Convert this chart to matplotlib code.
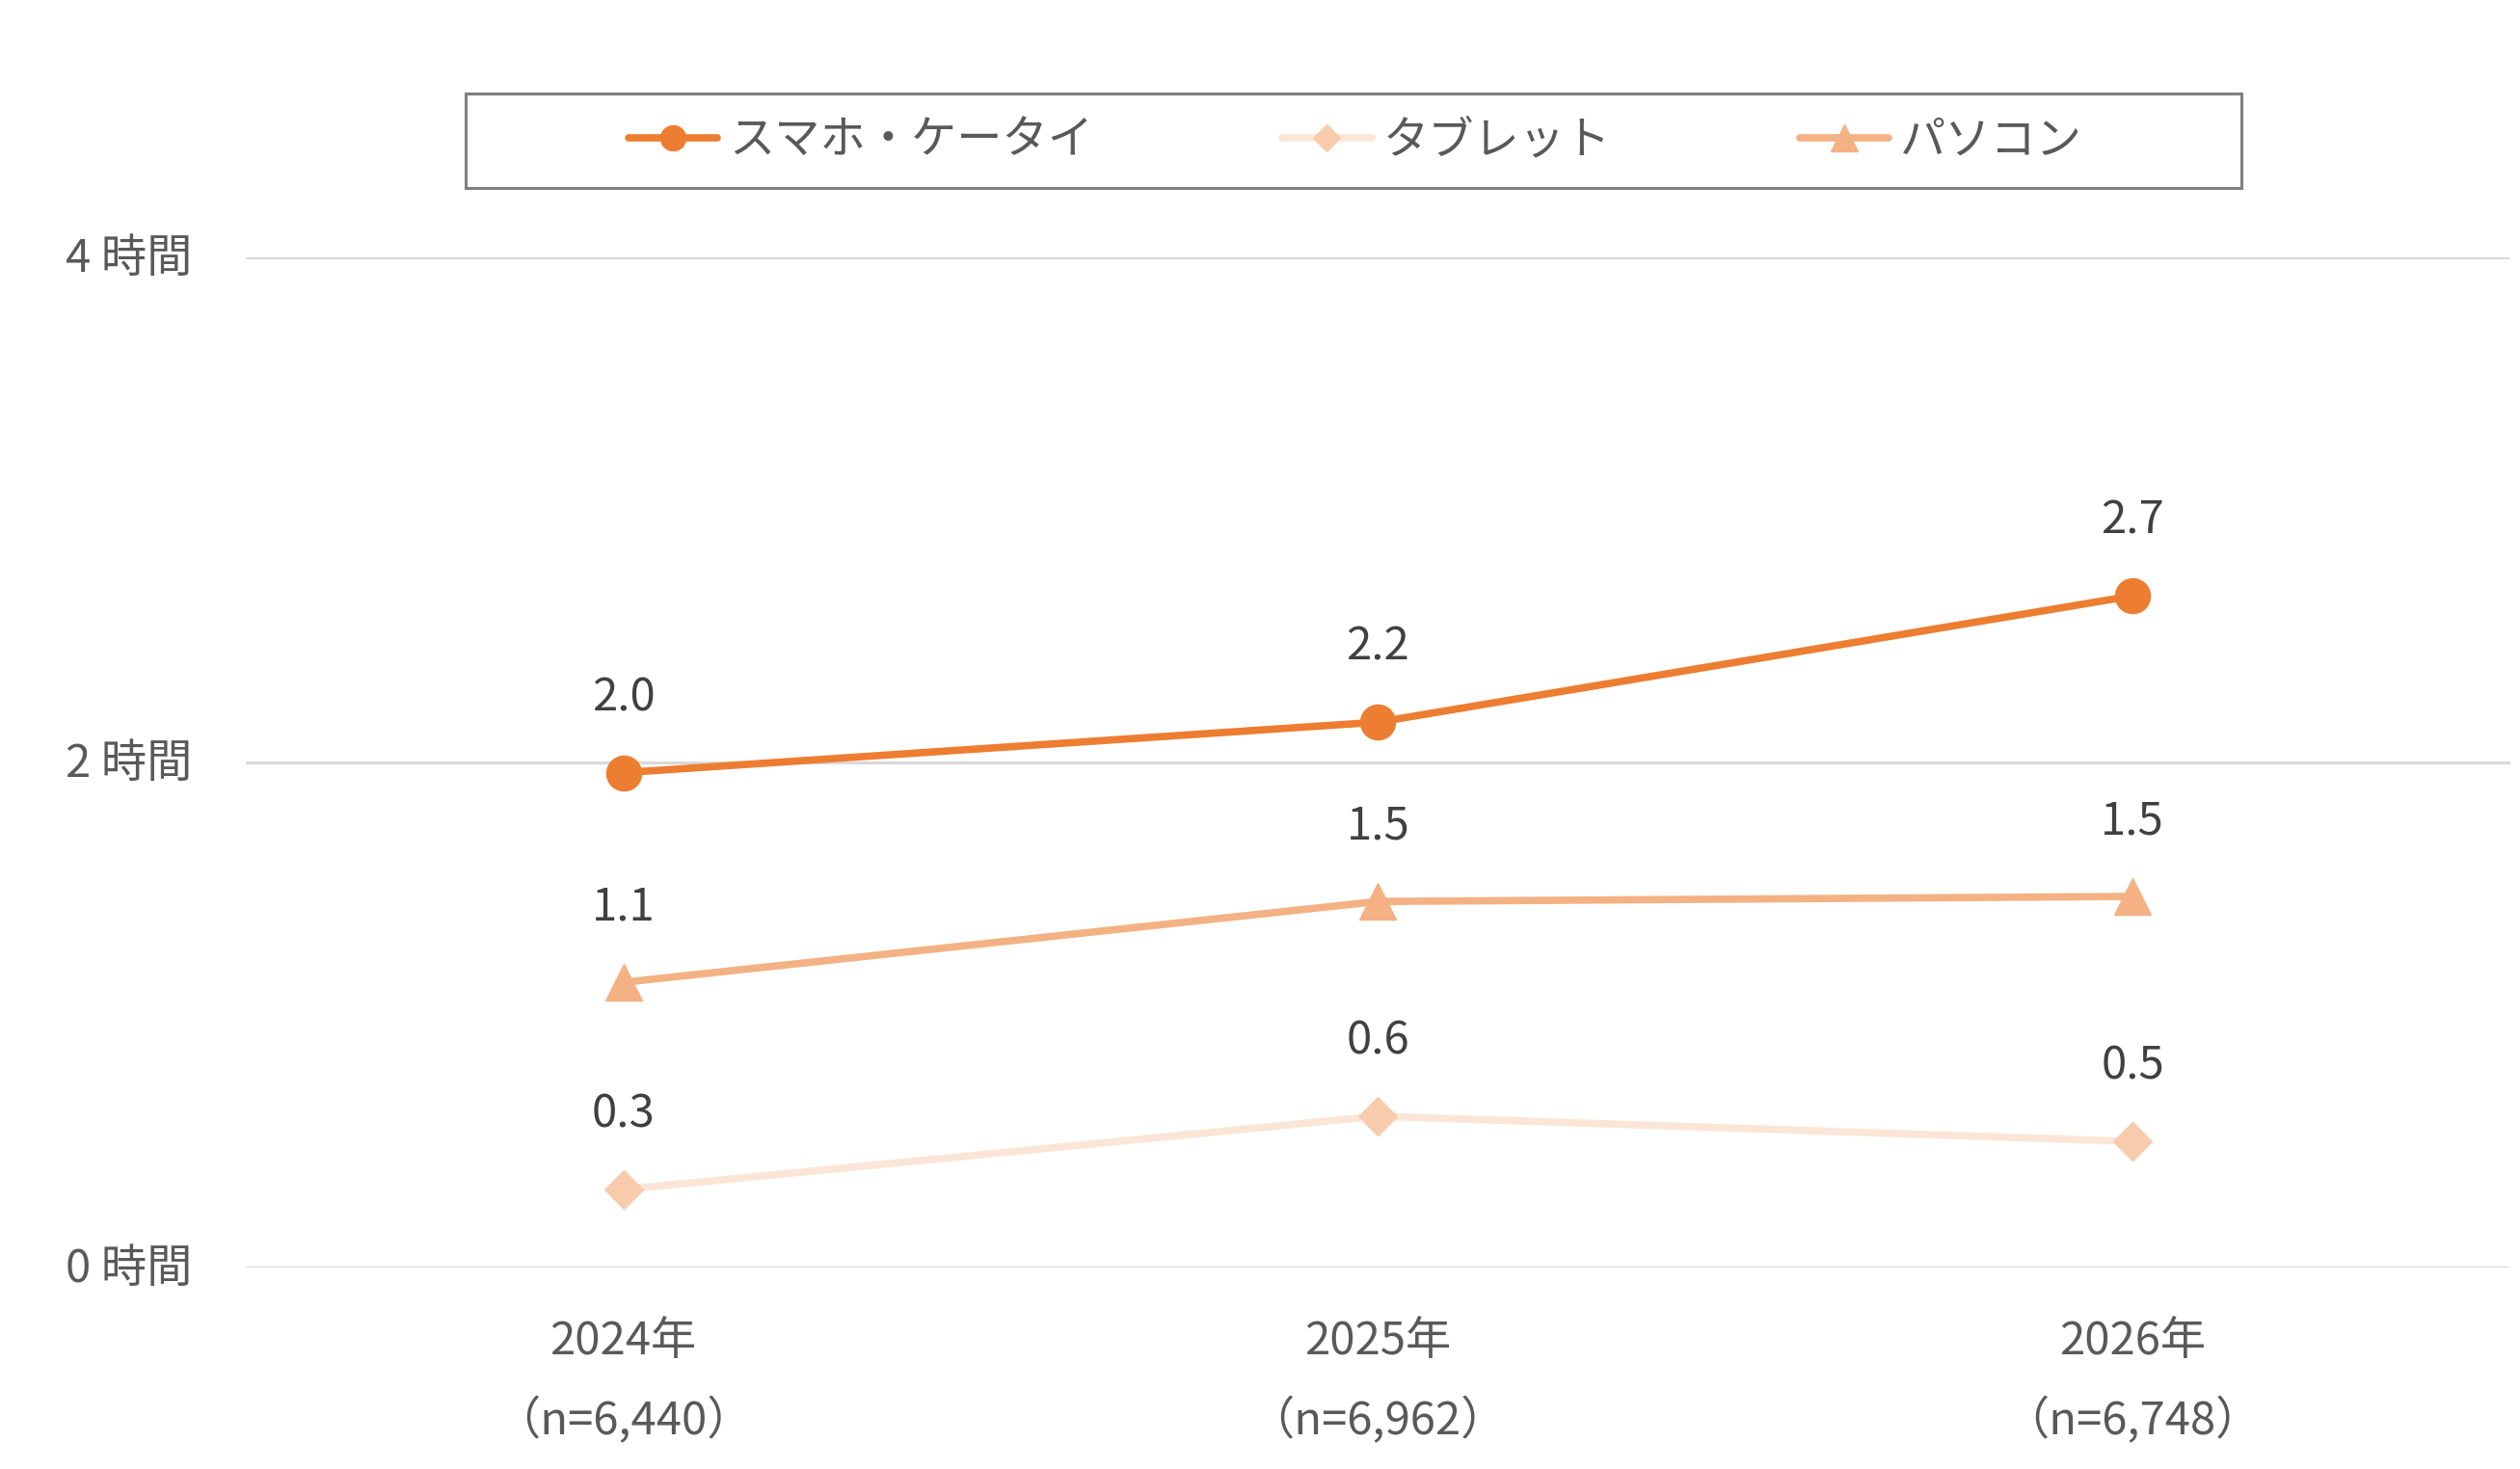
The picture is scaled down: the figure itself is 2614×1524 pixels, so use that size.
import matplotlib
matplotlib.use("Agg")
import matplotlib.pyplot as plt
from matplotlib.patches import Rectangle
from matplotlib.transforms import ScaledTranslation

plt.rcParams['font.family'] = ['Noto Sans CJK JP', 'DejaVu Sans']

# ---- data ----
years = ["2024年", "2025年", "2026年"]
samples = ["（n=6,440）", "（n=6,962）", "（n=6,748）"]
series_names = ["スマホ・ケータイ", "タブレット", "パソコン"]
smartphone = [1.96, 2.16, 2.66]
tablet = [0.31, 0.60, 0.50]
pc = [1.13, 1.45, 1.47]
smartphone_labels = ["2.0", "2.2", "2.7"]
tablet_labels = ["0.3", "0.6", "0.5"]
pc_labels = ["1.1", "1.5", "1.5"]
y_ticks = [0, 2, 4]
y_tick_labels = ["0 時間", "2 時間", "4 時間"]

fig = plt.figure(figsize=(26.14, 15.24), dpi=100)
ax = fig.add_axes([0.0976, 0.137, 0.8984, 0.6878])

x = list(range(len(years)))
series = [
    (smartphone, smartphone_labels, series_names[0], "#ED7D31", "#ED7D31", "o", 26),
    (tablet, tablet_labels, series_names[1], "#FBE5D6", "#F8CBAD", "D", 20),
    (pc, pc_labels, series_names[2], "#F4B183", "#F4B183", "^", 28),
]
handles = {}
for vals, labs, name, lc, mc, mk, ms in series:
    ln, = ax.plot(x, vals, color=lc, lw=5.5, marker=mk, markersize=ms,
                  markerfacecolor=mc, markeredgecolor=mc, label=name,
                  solid_capstyle="round", zorder=3)
    handles[name] = ln
    for xi, v, t in zip(x, vals, labs):
        ax.annotate(t, (xi, v), xytext=(0, 56), textcoords="offset points",
                    ha="center", va="center", fontsize=34, color="#404040")

ax.set_xlim(-0.5, 2.5)
ax.set_ylim(0, 4)
ax.set_yticks(y_ticks)
ax.set_yticklabels(y_tick_labels)
ax.set_xticks(x)
ax.set_xticklabels([f"{a}\n{b}" for a, b in zip(years, samples)], linespacing=1.88)
ax.tick_params(axis="y", length=0, pad=40, labelsize=34, labelcolor="#595959")
ax.tick_params(axis="x", length=0, pad=38, labelsize=34, labelcolor="#595959")
for lab in ax.get_yticklabels():
    lab.set_transform(lab.get_transform() + ScaledTranslation(0, 3 / 72, fig.dpi_scale_trans))
ax.grid(axis="y", color="#D9D9D9", lw=2.2, zorder=0)
ax.set_axisbelow(True)
for s in ax.spines.values():
    s.set_visible(False)

# legend frame
fig.patches.append(Rectangle((483 / 2614, 1 - 195 / 1524), (2325 - 483) / 2614, 98 / 1524,
                             transform=fig.transFigure, fill=False,
                             edgecolor="#808080", lw=2.2, zorder=5))
leg = fig.legend([handles[n] for n in series_names], series_names,
                 loc="center", bbox_to_anchor=(1406 / 2614, 1 - 146 / 1524),
                 ncol=3, frameon=False, fontsize=34, labelcolor="#595959",
                 handlelength=1.96, handletextpad=0.25, columnspacing=4.15,
                 markerscale=0.72)

fig.savefig("out.png", dpi=100)
